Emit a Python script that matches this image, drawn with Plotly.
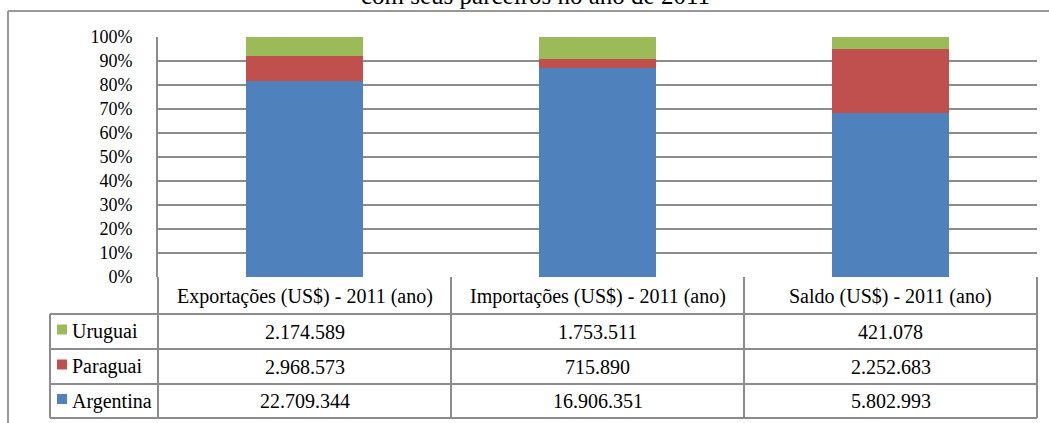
import plotly.graph_objects as go

# data
categories = ["Exportações (US$) - 2011 (ano)",
              "Importações (US$) - 2011 (ano)",
              "Saldo (US$) - 2011 (ano)"]
argentina = [22709344, 16906351, 5802993]
paraguai = [2968573, 715890, 2252683]
uruguai = [2174589, 1753511, 421078]
y_ticks = [0, 10, 20, 30, 40, 50, 60, 70, 80, 90, 100]

series = [("Argentina", argentina, "#4F81BD"),
          ("Paraguai", paraguai, "#C0504D"),
          ("Uruguai", uruguai, "#9BBB59")]

W, H = 1049, 423
L, R, T, B = 158, 1037, 37, 277  # plot area in pixels
FONT = "Liberation Serif, Times New Roman, serif"
LINE = "#8c8c8c"


def px_x(x):
    return (x - L) / (R - L)


def px_y(y):
    return (B - y) / (B - T)


def fmt(v):
    return f"{v:,}".replace(",", ".")


fig = go.Figure()
for name, vals, color in series:
    fig.add_trace(go.Bar(
        x=categories, y=vals, name=name,
        marker=dict(color=color, line=dict(width=0)),
        hoverinfo="skip"
    ))

shapes = []
annotations = []

# outer frame (left and top only visible)
shapes.append(dict(type="line", xref="paper", yref="paper",
                   x0=px_x(8), x1=px_x(1060), y0=px_y(11), y1=px_y(11),
                   line=dict(color="#999999", width=2)))
shapes.append(dict(type="line", xref="paper", yref="paper",
                   x0=px_x(8), x1=px_x(8), y0=px_y(11), y1=px_y(440),
                   line=dict(color="#999999", width=2)))

# data table grid
col_edges = [L, 451, 744, R]
row_edges = [314, 349, 384, 418]
for y in row_edges:
    shapes.append(dict(type="line", xref="paper", yref="paper",
                       x0=px_x(50), x1=px_x(R), y0=px_y(y), y1=px_y(y),
                       line=dict(color=LINE, width=2)))
shapes.append(dict(type="line", xref="paper", yref="paper",
                   x0=px_x(50), x1=px_x(50), y0=px_y(314), y1=px_y(418),
                   line=dict(color=LINE, width=2)))
for x in col_edges:
    shapes.append(dict(type="line", xref="paper", yref="paper",
                       x0=px_x(x), x1=px_x(x), y0=px_y(B), y1=px_y(418),
                       line=dict(color=LINE, width=2)))

# header cells
for i, cat in enumerate(categories):
    cx = (col_edges[i] + col_edges[i + 1]) / 2
    annotations.append(dict(x=px_x(cx), y=px_y(296), xref="paper", yref="paper",
                            text=cat, showarrow=False, xanchor="center", yanchor="middle",
                            font=dict(family=FONT, size=20, color="#000000")))

# data rows (top to bottom: Uruguai, Paraguai, Argentina)
for r, (name, vals, color) in enumerate(reversed(series)):
    cy = (row_edges[r] + row_edges[r + 1]) / 2
    shapes.append(dict(type="rect", xref="paper", yref="paper",
                       x0=px_x(57), x1=px_x(67), y0=px_y(cy - 7), y1=px_y(cy + 3),
                       fillcolor=color, line=dict(width=0)))
    annotations.append(dict(x=px_x(70), y=px_y(cy), xref="paper", yref="paper",
                            text=name, showarrow=False, xanchor="left", yanchor="middle",
                            font=dict(family=FONT, size=20, color="#000000")))
    for i, v in enumerate(vals):
        cx = (col_edges[i] + col_edges[i + 1]) / 2
        annotations.append(dict(x=px_x(cx), y=px_y(cy), xref="paper", yref="paper",
                                text=fmt(v), showarrow=False, xanchor="center", yanchor="middle",
                                font=dict(family=FONT, size=20, color="#000000")))

# title, cut off by the top edge of the picture
annotations.append(dict(x=px_x(535), y=px_y(11), xref="paper", yref="paper",
                        text="com seus parceiros no ano de 2011", showarrow=False,
                        xanchor="center", yanchor="bottom",
                        font=dict(family=FONT, size=25, color="#000000")))

fig.update_layout(
    width=W, height=H,
    margin=dict(l=L, r=W - R, t=T, b=H - B, pad=0, autoexpand=False),
    barmode="stack", barnorm="percent", bargap=0.604,
    paper_bgcolor="white", plot_bgcolor="white",
    showlegend=False,
    font=dict(family=FONT, size=18, color="#000000"),
    xaxis=dict(type="category", range=[-0.5, 2.5], showticklabels=False,
               showgrid=False, showline=False, zeroline=False, ticks=""),
    yaxis=dict(range=[0, 100], tickmode="array", tickvals=y_ticks,
               ticktext=[f"{t}%" for t in y_ticks],
               showgrid=True, gridcolor=LINE, gridwidth=2,
               showline=True, linecolor=LINE, linewidth=2,
               zeroline=False, ticks="", ticklabelstandoff=20,
               tickfont=dict(family=FONT, size=18, color="#000000")),
    shapes=shapes,
    annotations=annotations,
)

fig.write_html("out.html", config={"displayModeBar": False},
               post_script="document.body.style.margin='0';")
